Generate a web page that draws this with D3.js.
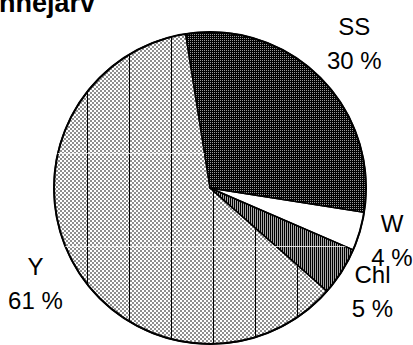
<!DOCTYPE html>
<html>
<head>
<meta charset="utf-8">
<script src="https://cdn.jsdelivr.net/npm/d3@7"></script>
<style>
  html, body { margin: 0; padding: 0; background: #fff; }
  svg { display: block; }
</style>
</head>
<body>
<script>
// Composition shares, percent
const categories = ["SS", "W", "Chl", "Y"];
const shares = [30, 4, 5, 61];
const titleText = "nnejärv";

const width = 413, height = 345;
const cx = 210, cy = 188, radius = 156;
const labelGap = 12;          // space between rim and nearest label edge
const font = "'Liberation Sans', Arial, sans-serif";

const svg = d3.select("body").append("svg")
  .attr("width", width).attr("height", height)
  .attr("shape-rendering", "crispEdges");
svg.append("rect").attr("width", width).attr("height", height).attr("fill", "#fff");

const defs = svg.append("defs");
function makePattern(id, w, h, rects) {
  const p = defs.append("pattern").attr("id", id)
    .attr("patternUnits", "userSpaceOnUse").attr("width", w).attr("height", h);
  rects.forEach(r => p.append("rect")
    .attr("x", r[0]).attr("y", r[1]).attr("width", r[2]).attr("height", r[3])
    .attr("fill", r[4]));
}
// dark dotted fill
makePattern("fill-ss", 2, 2, [[0, 0, 2, 2, "#000"], [0, 0, 1, 1, "#9a9a9a"]]);
// plain white fill
makePattern("fill-w", 2, 2, [[0, 0, 2, 2, "#fff"]]);
// dense vertical stripes
makePattern("fill-chl", 2, 2, [[0, 0, 2, 2, "#a8a8a8"], [0, 0, 1, 2, "#000"]]);
// light checker
makePattern("fill-y", 4, 4, [[0, 0, 4, 4, "#fff"], [0, 0, 2, 2, "#8e8e8e"], [2, 2, 2, 2, "#8e8e8e"]]);
// widely spaced vertical rules laid over the light checker
makePattern("rule-y", 42, 4, [[3, 0, 1, 4, "#000"]]);

const fill = d3.scaleOrdinal().domain(categories)
  .range(["url(#fill-ss)", "url(#fill-w)", "url(#fill-chl)", "url(#fill-y)"]);

const data = categories.map((c, i) => ({ name: c, value: shares[i] }));
const deg = Math.PI / 180;
const pie = d3.pie().sort(null).value(d => d.value)
  .startAngle(-9 * deg).endAngle(351 * deg);
const arcs = pie(data);
const arc = d3.arc().innerRadius(0).outerRadius(radius);

const g = svg.append("g").attr("transform", `translate(${cx},${cy})`);

// clip for the soft light rows running through the lighter slices
const clip = defs.append("clipPath").attr("id", "light-slices");
clip.selectAll("path").data(arcs.filter(a => a.data.name === "Y" || a.data.name === "Chl"))
  .join("path").attr("transform", `translate(${cx},${cy})`).attr("d", arc);

g.selectAll("path.slice").data(arcs).join("path")
  .attr("class", "slice")
  .attr("d", arc)
  .attr("fill", d => fill(d.data.name))
  .attr("shape-rendering", "auto");

g.selectAll("path.rules").data(arcs.filter(a => a.data.name === "Y")).join("path")
  .attr("class", "rules")
  .attr("d", arc)
  .attr("fill", "url(#rule-y)");

svg.append("g").attr("clip-path", "url(#light-slices)")
  .selectAll("line").data([153.5, 246.5]).join("line")
  .attr("x1", 0).attr("x2", width).attr("y1", d => d).attr("y2", d => d)
  .attr("stroke", "#f4f4f4").attr("stroke-width", 1).attr("opacity", 0.85);

// slice edges and rim
g.selectAll("path.edge").data(arcs).join("path")
  .attr("class", "edge")
  .attr("d", arc)
  .attr("fill", "none").attr("stroke", "#000").attr("stroke-width", 1.4)
  .attr("stroke-linejoin", "round")
  .attr("shape-rendering", "auto");
g.append("circle").attr("r", radius).attr("fill", "none")
  .attr("stroke", "#000").attr("stroke-width", 2).attr("shape-rendering", "auto");

// labels: name above, percentage below, block placed just outside the rim
const halfH = 25.5;
const labels = svg.append("g").attr("font-family", font).attr("font-size", 24)
  .attr("fill", "#000").attr("text-anchor", "middle");
arcs.forEach(a => {
  const lg = labels.append("g");
  lg.append("text").attr("y", -8.5).text(a.data.name);
  lg.append("text").attr("y", 25.5).text(`${a.data.value} %`);
  const halfW = lg.node().getBBox().width / 2;
  const mid = (a.startAngle + a.endAngle) / 2;
  const s = Math.sin(mid), c = Math.cos(mid);
  const reach = Math.min(Math.abs(s) > 1e-6 ? halfW / Math.abs(s) : Infinity,
                         Math.abs(c) > 1e-6 ? halfH / Math.abs(c) : Infinity);
  const d = radius + labelGap + reach;
  lg.attr("transform", `translate(${cx + d * s},${cy - d * c})`);
});

// title (runs off the left edge)
svg.append("text").attr("x", 95).attr("y", 12)
  .attr("text-anchor", "end").attr("font-family", font)
  .attr("font-weight", "bold").attr("font-size", 27).attr("fill", "#000")
  .text(titleText);
</script>
</body>
</html>
